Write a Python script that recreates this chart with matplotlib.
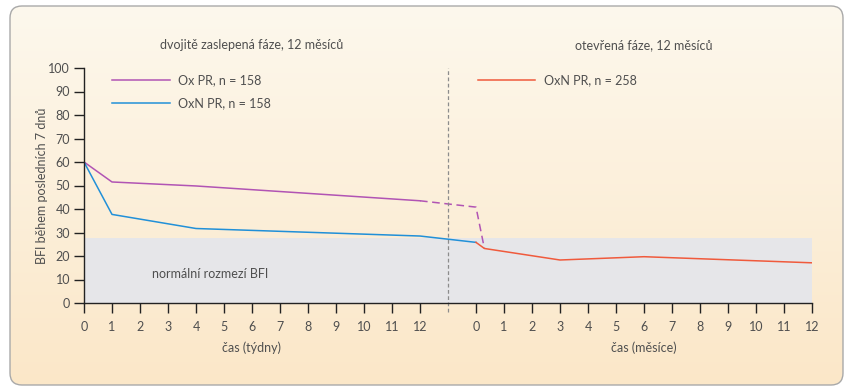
import numpy as np
import matplotlib.pyplot as plt
from matplotlib.patches import FancyBboxPatch
from matplotlib.lines import Line2D
from matplotlib.colors import LinearSegmentedColormap

plt.rcParams['font.family'] = ['Lato', 'DejaVu Sans']

# --- data (BFI score) ---
# double-blind phase, time in weeks
weeks = [0, 1, 4, 12]
ox_pr = [60, 51.5, 49.8, 43.5]
oxn_pr = [60, 37.7, 31.7, 28.5]

# transition to open-label phase (months)
ox_switch_months = [0, 0.3]
ox_switch_vals = [40.8, 23.2]
oxn_switch_months = [0]
oxn_switch_vals = [25.8]

# open-label phase, time in months
months = [0, 0.3, 3, 6, 9, 12]
oxn_open = [25.8, 23.2, 18.3, 19.7, 18.4, 17.1]

normal_bfi_max = 27.8

week_ticks = list(range(13))
month_ticks = list(range(13))

ylabel = "BFI během posledních 7 dnů"
phase_titles = ["dvojitě zaslepená fáze, 12 měsíců", "otevřená fáze, 12 měsíců"]
xlabels = ["čas (týdny)", "čas (měsíce)"]
legend_left = ["Ox PR, n = 158", "OxN PR, n = 158"]
legend_right = ["OxN PR, n = 258"]
band_label = "normální rozmezí BFI"

# month 0 sits 14 units to the right of week 0 on the shared axis
MONTH_OFFSET = 14

c_ox = "#b154b4"
c_oxn = "#2190d8"
c_open = "#f05a3c"
c_text = "#4f4f4f"

W, H = 850, 389
fig = plt.figure(figsize=(W / 100, H / 100), dpi=100)
fig.patch.set_facecolor("white")

# rounded panel with a soft cream gradient
bg = fig.add_axes([0, 0, 1, 1])
bg.set_xlim(0, W)
bg.set_ylim(H, 0)
bg.axis("off")
box = FancyBboxPatch((10, 6), 833, 379, boxstyle="round,pad=0,rounding_size=12",
                     facecolor="none", edgecolor="#a9a9a9", lw=1.0, zorder=3)
bg.add_patch(box)
cmap = LinearSegmentedColormap.from_list("cream", ["#fdf8ed", "#fbe7c8"])
grad = np.linspace(0, 1, 256).reshape(-1, 1)
im = bg.imshow(grad, cmap=cmap, extent=[10, 843, 385, 6], aspect="auto", zorder=1)
im.set_clip_path(box)

ax = fig.add_axes([84 / W, 1 - 303 / H, 728 / W, 235 / H])
ax.set_facecolor("none")
ax.set_xlim(0, 12 + MONTH_OFFSET)
ax.set_ylim(0, 100)

ax.axhspan(0, normal_bfi_max, color="#e6e6e9", lw=0, zorder=0)
ax.text(4.5, 12.5, band_label, ha="center", va="center", fontsize=9, color=c_text)

open_x = [MONTH_OFFSET + m for m in months]
ax.plot(weeks, ox_pr, color=c_ox, lw=1.1)
ax.plot([weeks[-1]] + [MONTH_OFFSET + m for m in ox_switch_months],
        [ox_pr[-1]] + ox_switch_vals, color=c_ox, lw=1.1, dashes=(5, 3))
ax.plot(weeks + [MONTH_OFFSET + m for m in oxn_switch_months],
        oxn_pr + oxn_switch_vals, color=c_oxn, lw=1.1)
ax.plot(open_x, oxn_open, color=c_open, lw=1.1)

# phase separator
ax.plot([13, 13], [-4, 100], color="#8c8c8c", lw=0.9, dashes=(3, 2), clip_on=False)

ax.set_xticks(week_ticks + [MONTH_OFFSET + m for m in month_ticks])
ax.set_xticklabels([str(w) for w in week_ticks] + [str(m) for m in month_ticks])
ax.set_yticks(range(0, 101, 10))
ax.tick_params(direction="out", length=7, width=1, color="#222222",
               labelcolor=c_text, labelsize=9)
ax.tick_params(axis="x", pad=6)
ax.tick_params(axis="y", pad=3)
for s in ["top", "right"]:
    ax.spines[s].set_visible(False)
for s in ["left", "bottom"]:
    ax.spines[s].set_color("#222222")
    ax.spines[s].set_linewidth(1)

ax.set_ylabel(ylabel, fontsize=9, color=c_text)
ax.yaxis.set_label_coords(-0.049, 0.5)

ax.text(6, 109.8, phase_titles[0], ha="center", va="center", fontsize=9, color=c_text)
ax.text(MONTH_OFFSET + 6, 109.8, phase_titles[1], ha="center", va="center", fontsize=9, color=c_text)
ax.text(6, -19, xlabels[0], ha="center", va="center", fontsize=9, color=c_text)
ax.text(MONTH_OFFSET + 6, -19, xlabels[1], ha="center", va="center", fontsize=9, color=c_text)

h_left = [Line2D([], [], color=c_ox, lw=1.1), Line2D([], [], color=c_oxn, lw=1.1)]
leg1 = ax.legend(h_left, legend_left, loc="upper left", bbox_to_anchor=(0.0385, 0.975),
                 frameon=False, fontsize=9, handlelength=4.6, handletextpad=0.7,
                 labelspacing=0.92, borderpad=0, borderaxespad=0, labelcolor=c_text)
ax.add_artist(leg1)
h_right = [Line2D([], [], color=c_open, lw=1.1)]
ax.legend(h_right, legend_right, loc="upper left", bbox_to_anchor=(0.541, 0.975),
          frameon=False, fontsize=9, handlelength=4.6, handletextpad=0.7,
          borderpad=0, borderaxespad=0, labelcolor=c_text)

fig.savefig("out.png", dpi=100)
